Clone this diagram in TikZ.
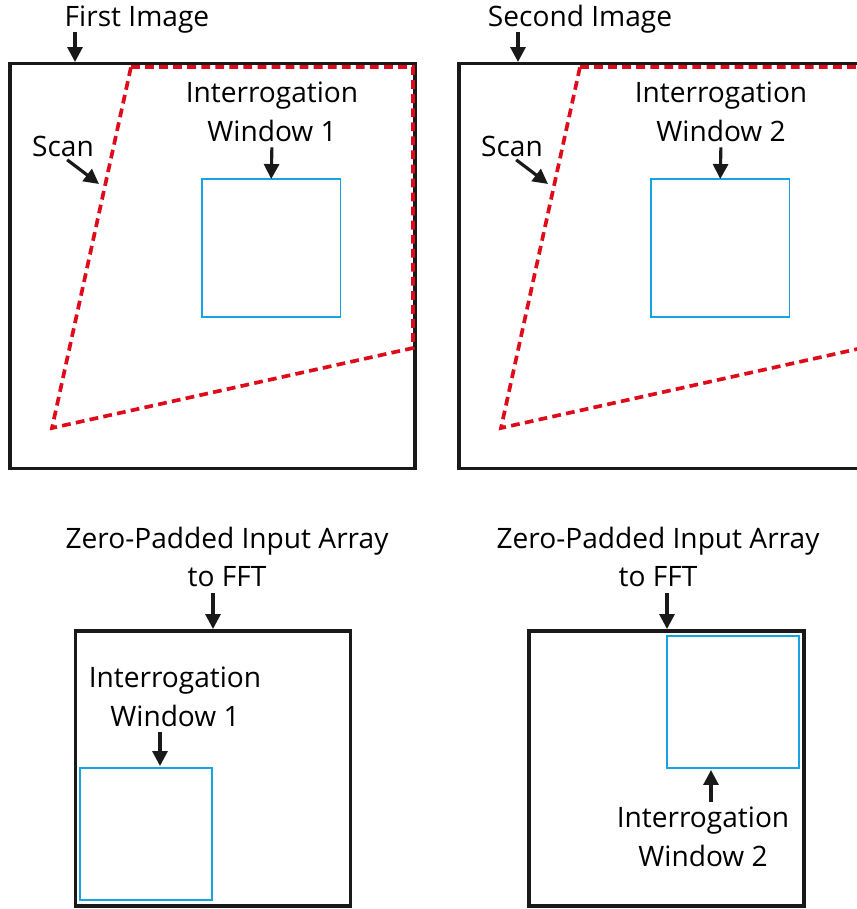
\documentclass[tikz,border=0pt]{standalone}
\usepackage{fontspec}
\setmainfont{Open Sans}
\usetikzlibrary{arrows.meta}
\definecolor{scanred}{RGB}{222,12,26}
\definecolor{winblue}{RGB}{22,163,226}

\begin{document}
\begin{tikzpicture}[x=0.02cm,y=-0.02cm,font=\fontsize{16}{22}\selectfont,
  frame/.style={draw=black!90,line width=2pt,inner sep=0pt,outer sep=0pt,anchor=north west},
  window/.style={draw=winblue,line width=1.1pt,inner sep=0pt,outer sep=0pt,anchor=north west},
  scan/.style={draw=scanred,line width=2.1pt,dash pattern=on 5pt off 3pt},
  pointer/.style={-{Triangle[width=8.5pt,length=8.5pt]},line width=1.8pt,black!90,shorten <=3pt},
  label/.style={align=center,inner sep=0pt}]
\clip (0,0) rectangle (857,909);
% image pair with scan region
\foreach \S/\X/\tx/\ax/\n in {0/First/137/75/1,449/Second/580/518/2}
  {\node[frame,minimum size=8.1cm] (F-\n) at (\S+10,63.5) {};
  \draw[scan,line join=miter] (\S+131,67) -- (\S+413,67) -- (\S+413,348) -- (\S+52,428) -- cycle;
  \node[window,minimum width=2.77cm,minimum height=2.76cm] (W-\n) at (\S+202,179) {};
  \node[label,anchor=base] (T-\n) at (\tx,27) {\X\ Image};
  \node[label,anchor=base] (S-\n) at (\S+63,156) {Scan};
  \node[label] (I-\n) at (\S+272,112) {Interrogation\\Window \n};
  \coordinate (a-\n) at (\ax,62);
  \coordinate (c-\n) at (\S+99,184);
  \draw[pointer] (T-\n.base -| a-\n) -- (a-\n);
  \draw[pointer] (S-\n.south) -- (c-\n);
  \draw[pointer] (I-\n.south) -- (W-\n.north);}
% zero-padded arrays
\node[frame,minimum size=5.5cm] (Z-1) at (75.5,631) {};
\node[window,minimum size=2.64cm] (W-3) at (80,768) {};
\node[label] (P-1) at (227,557) {Zero-Padded Input Array\\to FFT};
\node[label] (I-3) at (175,697) {Interrogation\\Window 1};
\coordinate (b-1) at (213,629);
\coordinate (d-3) at (160,766);
\draw[pointer] (P-1.south -| b-1) -- (b-1);
\draw[pointer] (I-3.south -| d-3) -- (d-3);
\node[frame,minimum size=5.5cm] (Z-2) at (529,631) {};
\node[window,minimum size=2.64cm] (W-4) at (667,636) {};
\node[label] (P-2) at (658,557) {Zero-Padded Input Array\\to FFT};
\node[label] (I-4) at (703,837) {Interrogation\\Window 2};
\coordinate (b-2) at (667,629);
\coordinate (d-4) at (711,770);
\draw[pointer] (P-2.south -| b-2) -- (b-2);
\draw[pointer] (I-4.north -| d-4) -- (d-4);
\end{tikzpicture}
\end{document}
